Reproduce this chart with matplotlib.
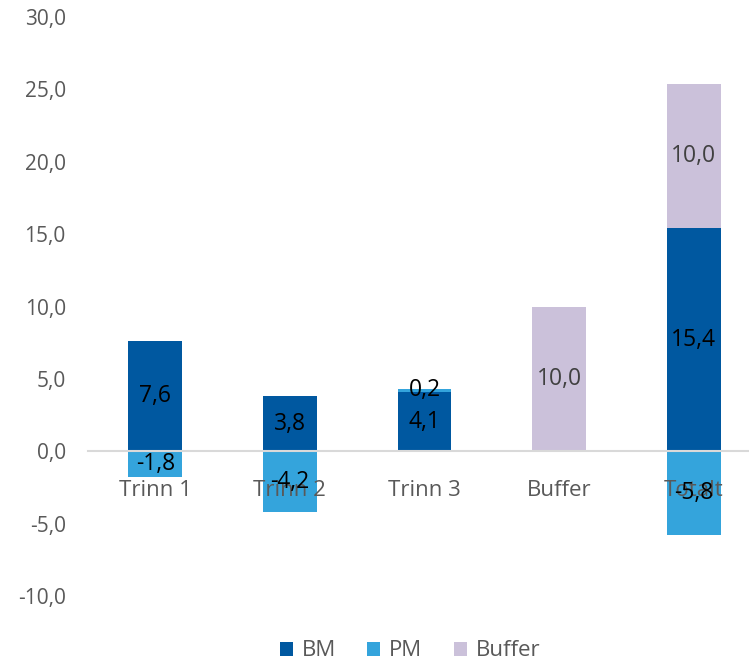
import matplotlib
matplotlib.use("Agg")
import matplotlib.pyplot as plt
import numpy as np

# Data
categories = ["Trinn 1", "Trinn 2", "Trinn 3", "Buffer", "Totalt"]
bm = [7.6, 3.8, 4.1, 0.0, 15.4]
pm = [-1.8, -4.2, 0.2, 0.0, -5.8]
buffer_vals = [0.0, 0.0, 0.0, 10.0, 10.0]
yticks = [-10, -5, 0, 5, 10, 15, 20, 25, 30]

col_bm = "#0058A0"
col_pm = "#34A4DC"
col_buf = "#CBC1DA"

def fmt(v):
    return f"{v:.1f}".replace(".", ",")

plt.rcParams["font.family"] = ["Open Sans", "DejaVu Sans"]

fig = plt.figure(figsize=(7.49, 6.6), dpi=100)
ax = fig.add_axes([88 / 749, 1 - 596 / 660, 673 / 749, (596 - 17) / 660])

x = np.arange(len(categories))
w = 0.4
bm = np.array(bm)
pm = np.array(pm)
buffer_vals = np.array(buffer_vals)

# stacking: positives on positives, negatives below zero
pm_bottom = np.where(pm >= 0, bm, 0)
buf_bottom = bm + np.where(pm > 0, pm, 0)

b1 = ax.bar(x, bm, w, color=col_bm, label="BM", zorder=2)
b2 = ax.bar(x, pm, w, bottom=pm_bottom, color=col_pm, label="PM", zorder=2)
b3 = ax.bar(x, buffer_vals, w, bottom=buf_bottom, color=col_buf, label="Buffer", zorder=2)

ax.bar_label(b1, labels=[fmt(v) if v != 0 else "" for v in bm], label_type="center",
             fontsize=16.5, color="black", zorder=4)
ax.bar_label(b2, labels=[fmt(v) if v != 0 else "" for v in pm], label_type="center",
             fontsize=16.5, color="black", zorder=4)
ax.bar_label(b3, labels=[fmt(v) if v != 0 else "" for v in buffer_vals], label_type="center",
             fontsize=16.5, color="#404040", zorder=4)

for s in ["top", "right", "left"]:
    ax.spines[s].set_visible(False)
ax.spines["bottom"].set_position(("data", 0))
ax.spines["bottom"].set_color("#D9D9D9")
ax.spines["bottom"].set_linewidth(1.5)
ax.set_axisbelow(False)

ax.set_ylim(-10, 30)
ax.set_xlim(-0.5, 4.5)
ax.set_yticks(yticks)
ax.set_yticklabels([fmt(v) for v in yticks], fontsize=15, color="#595959")
ax.set_xticks(x)
ax.set_xticklabels(categories, fontsize=16, color="#595959")
ax.tick_params(axis="both", length=0)
ax.tick_params(axis="x", pad=21)
ax.tick_params(axis="y", pad=16)

fig.legend(handles=[b1, b2, b3], labels=["BM", "PM", "Buffer"], loc="center",
           bbox_to_anchor=(410 / 749, 1 - 651 / 660), ncol=3, frameon=False,
           fontsize=16, labelcolor="#595959", handlelength=0.6, handleheight=0.6,
           handletextpad=0.4, columnspacing=1.4)

fig.savefig("out.png", dpi=100)
